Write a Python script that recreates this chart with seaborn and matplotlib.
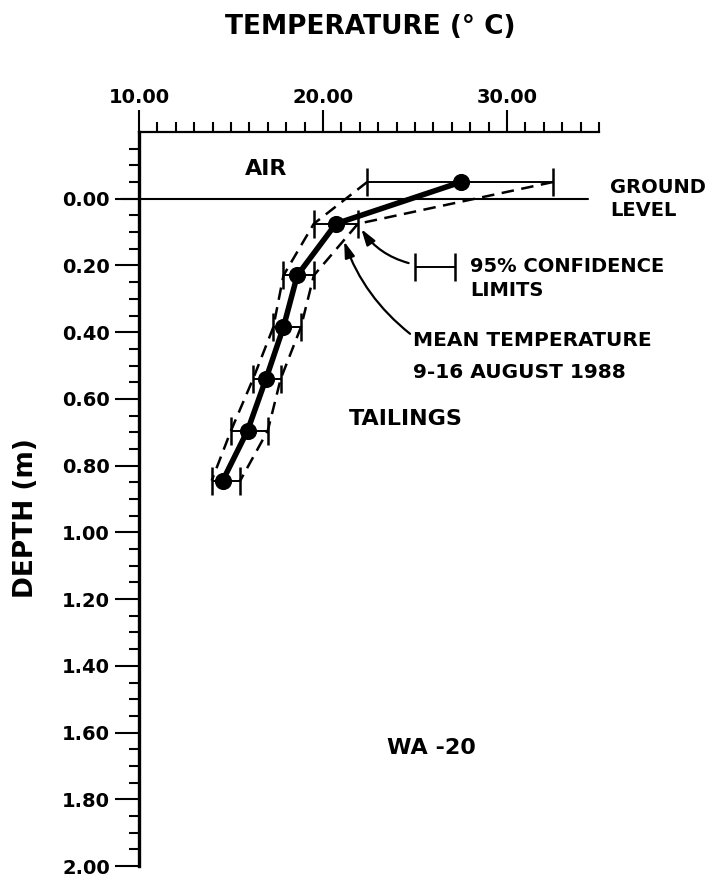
import matplotlib
matplotlib.use("Agg")
import matplotlib.pyplot as plt
import seaborn as sns
import numpy as np
import pandas as pd

# ---- data ----
depth = [-0.05, 0.075, 0.23, 0.385, 0.54, 0.695, 0.845]
mean_temp = [27.5, 20.7, 18.6, 17.85, 16.9, 15.9, 14.55]
lower_ci = [22.4, 19.5, 17.85, 17.3, 16.2, 15.0, 13.95]
upper_ci = [32.5, 21.9, 19.5, 18.8, 17.7, 17.0, 15.5]

x_major = [10, 20, 30]
x_labels = ["10.00", "20.00", "30.00"]
y_major = [0.0, 0.2, 0.4, 0.6, 0.8, 1.0, 1.2, 1.4, 1.6, 1.8, 2.0]
y_labels = ["0.00", "0.20", "0.40", "0.60", "0.80", "1.00", "1.20", "1.40", "1.60", "1.80", "2.00"]

sample_ci = [25.0, 27.2]
sample_depth = 0.205

df = pd.DataFrame({"depth": depth, "mean": mean_temp, "lo": lower_ci, "hi": upper_ci})

sns.set_theme(style="white")
plt.rcParams["font.family"] = ["DejaVu Sans"]
plt.rcParams["font.weight"] = "bold"
plt.rcParams["text.color"] = "black"
plt.rcParams["xtick.color"] = "black"
plt.rcParams["ytick.color"] = "black"

fig = plt.figure(figsize=(7.15, 8.81), dpi=100)
ax = fig.add_axes([139 / 715, 15 / 881, (599 - 139) / 715, (866 - 132) / 881])

# dashed confidence envelopes
sns.lineplot(data=df, x="lo", y="depth", sort=False, ax=ax, color="black",
             lw=1.8, linestyle=(0, (5, 3)), zorder=3)
sns.lineplot(data=df, x="hi", y="depth", sort=False, ax=ax, color="black",
             lw=1.8, linestyle=(0, (5, 3)), zorder=3)
# mean profile
sns.lineplot(data=df, x="mean", y="depth", sort=False, ax=ax, color="black",
             lw=4, zorder=4)
sns.scatterplot(data=df, x="mean", y="depth", ax=ax, color="black", s=130,
                edgecolor="black", zorder=5)

# error bars
xerr = np.vstack([df["mean"] - df["lo"], df["hi"] - df["mean"]])
ax.errorbar(df["mean"], df["depth"], xerr=xerr, fmt="none", ecolor="black",
            elinewidth=1.4, capsize=10, capthick=1.8, zorder=4)

# sample CI in the legend area
ax.errorbar([np.mean(sample_ci)], [sample_depth],
            xerr=[[np.mean(sample_ci) - sample_ci[0]], [sample_ci[1] - np.mean(sample_ci)]],
            fmt="none", ecolor="black", elinewidth=1.4, capsize=10, capthick=1.8)

# ground level
ax.plot([9.0, 34.4], [0, 0], color="black", lw=1.5, clip_on=False, zorder=2)

# axes setup
ax.set_xlim(10, 35)
ax.set_ylim(2.0, -0.2)
ax.xaxis.set_ticks_position("top")
ax.xaxis.set_label_position("top")
ax.set_xticks(x_major)
ax.set_xticklabels(x_labels, fontsize=14, fontweight="bold")
ax.set_xticks([v for v in range(11, 36) if v not in x_major], minor=True)
ax.set_yticks(y_major)
ax.set_yticklabels(y_labels, fontsize=14, fontweight="bold")
yminor = [round(-0.15 + 0.05 * i, 2) for i in range(43)]
yminor = [v for v in yminor if all(abs(v - m) > 1e-6 for m in y_major) and v < 2.0]
ax.set_yticks(yminor, minor=True)
ax.tick_params(axis="x", which="major", direction="out", length=16, width=1.5, pad=2, colors="black")
ax.tick_params(axis="x", which="minor", direction="out", length=7, width=1.5, colors="black")
ax.tick_params(axis="y", which="major", direction="out", length=17, width=1.5, pad=4, colors="black")
ax.tick_params(axis="y", which="minor", direction="out", length=7, width=1.5, colors="black")
ax.tick_params(top=True, bottom=False, left=True, right=False, which="both")
for s in ["right", "bottom"]:
    ax.spines[s].set_visible(False)
ax.spines["left"].set_linewidth(2.4)
ax.spines["top"].set_linewidth(1.6)
ax.spines["left"].set_color("black")
ax.spines["top"].set_color("black")
ax.set_xlabel("")
ax.set_ylabel("")
ax.grid(False)

# texts
ax.text(16.89, -0.09, "AIR", fontsize=16, fontweight="bold", ha="center", va="center")
ax.text(35.6, -0.033, "GROUND", fontsize=14, fontweight="bold", ha="left", va="center", clip_on=False)
ax.text(35.6, 0.036, "LEVEL", fontsize=14, fontweight="bold", ha="left", va="center", clip_on=False)
ax.text(28.0, 0.204, "95% CONFIDENCE", fontsize=14, fontweight="bold", ha="left", va="center")
ax.text(28.0, 0.276, "LIMITS", fontsize=14, fontweight="bold", ha="left", va="center")
ax.text(24.91, 0.426, "MEAN TEMPERATURE", fontsize=14.5, fontweight="bold", ha="left", va="center")
ax.text(24.91, 0.52, "9-16 AUGUST 1988", fontsize=14.5, fontweight="bold", ha="left", va="center")
ax.text(24.48, 0.66, "TAILINGS", fontsize=16, fontweight="bold", ha="center", va="center")
ax.text(25.89, 1.646, "WA -20", fontsize=16, fontweight="bold", ha="center", va="center")

# arrows
ax.annotate("", xy=(22.0, 0.084), xytext=(24.8, 0.195),
            arrowprops=dict(arrowstyle="-|>,head_length=0.8,head_width=0.25", color="black",
                            lw=1.6, connectionstyle="arc3,rad=-0.2"))
ax.annotate("", xy=(21.1, 0.12), xytext=(24.85, 0.41),
            arrowprops=dict(arrowstyle="-|>,head_length=0.8,head_width=0.25", color="black",
                            lw=1.6, connectionstyle="arc3,rad=-0.15"))

fig.text(370 / 715, 1 - 27 / 881, "TEMPERATURE (° C)", fontsize=19, fontweight="bold",
         ha="center", va="center")
fig.text(26 / 715, 1 - 518 / 881, "DEPTH (m)", fontsize=19, fontweight="bold",
         ha="center", va="center", rotation=90)

fig.savefig("out.png", dpi=100, facecolor="white")
